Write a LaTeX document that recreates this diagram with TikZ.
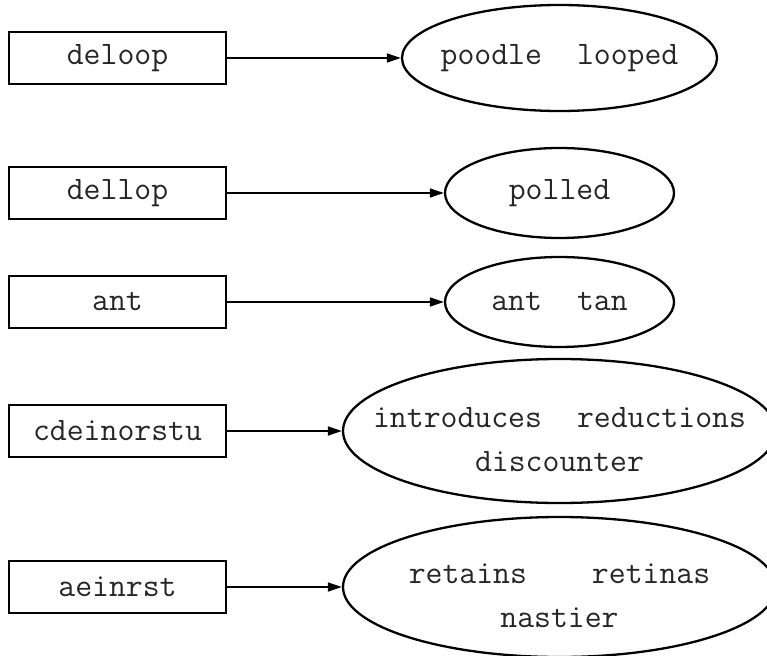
\documentclass[tikz,border=0pt]{standalone}
\usepackage{fontspec}
\usetikzlibrary{shapes.geometric,arrows.meta}

% Latin Modern Mono at 32.8pt gives 17.2pt per character
\newcommand{\wordfont}{\ttfamily\fontsize{32.8}{44}\selectfont}

\tikzset{
  word/.style={draw, line width=2.3pt, rectangle, inner sep=0pt,
    minimum width=217pt, minimum height=52pt, font=\wordfont, text=black!85},
  anagrams/.style={draw, line width=2.3pt, ellipse, inner sep=0pt},
  wordlist/.style={align=center, font=\wordfont, text=black!85},
  link/.style={line width=1.7pt, -{Triangle[length=14pt,width=9pt]}}
}

\begin{document}
\begin{tikzpicture}[x=1pt, y=-1pt]
  \useasboundingbox (0,0) rectangle (767,655);
  \clip (0,0) rectangle (767,655);

  % sorted-letter keys
  \node[word] (k1) at (117.5,58)  {deloop};
  \node[word] (k2) at (117.5,193) {dellop};
  \node[word] (k3) at (117.5,302) {ant};
  \node[word] (k4) at (117.5,431) {cdeinorstu};
  \node[word] (k5) at (117.5,587) {aeinrst};

  % anagram groups
  \node[anagrams, minimum width=315pt, minimum height=106pt] (g1) at (559.5,58) {};
  \node[wordlist] (t1) at (g1.center) {poodle\hspace{35pt}looped};

  \node[anagrams, minimum width=229pt, minimum height=90pt] (g2) at (559.5,193) {};
  \node[wordlist] (t2) at (g2.center) {polled};

  \node[anagrams, minimum width=229pt, minimum height=90pt] (g3) at (559.5,302) {};
  \node[wordlist] (t3) at (g3.center) {ant\hspace{35pt}tan};

  \node[anagrams, minimum width=433pt, minimum height=144pt] (g4) at (559.5,431) {};
  \node[wordlist, yshift=-9pt] (t4) at (g4.center) {introduces\hspace{35pt}reductions\\discounter};

  \node[anagrams, minimum width=433pt, minimum height=140pt] (g5) at (559.5,587) {};
  \node[wordlist, yshift=-9pt] (t5) at (g5.center) {retains\hspace{65pt}retinas\\nastier};

  % key -> group
  \draw[link] (k1) -- (g1);
  \draw[link] (k2) -- (g2);
  \draw[link] (k3) -- (g3);
  \draw[link] (k4) -- (g4);
  \draw[link] (k5) -- (g5);
\end{tikzpicture}
\end{document}
